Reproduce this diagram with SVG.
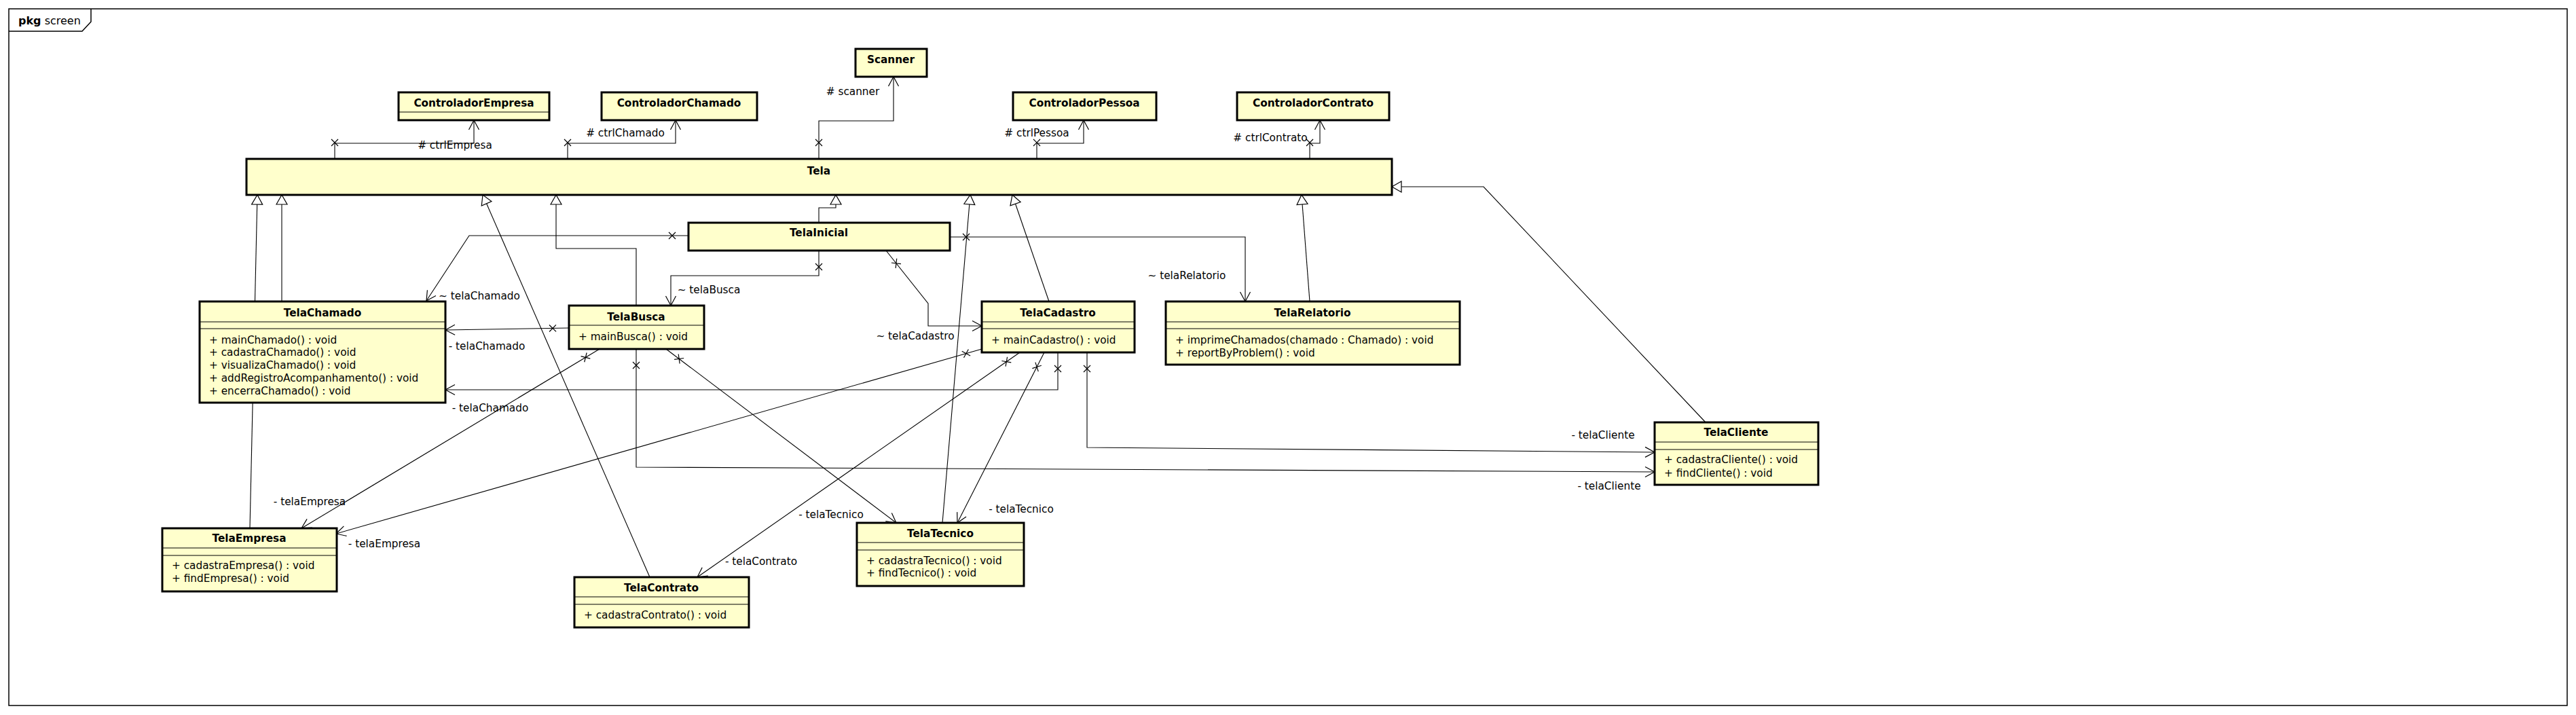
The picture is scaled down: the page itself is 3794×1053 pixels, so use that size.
<svg xmlns="http://www.w3.org/2000/svg" width="3794" height="1053" viewBox="0 0 3794 1053">
<style>
text{font-family:"DejaVu Sans","Liberation Sans",sans-serif;font-size:15.3px;fill:#000}
.nm{font-weight:bold;text-anchor:middle}
.lb{text-anchor:middle}
.box{fill:#ffffcc;stroke:#000;stroke-width:3}
.dv{stroke:#000;stroke-width:1.2}
.c path{fill:none;stroke:#000;stroke-width:1.1}
.as{marker-start:url(#xs);marker-end:url(#ao)}
.ge{marker-end:url(#tri)}
</style>
<defs>
<marker id="xs" markerWidth="2" markerHeight="2" refX="0" refY="0" orient="auto" markerUnits="userSpaceOnUse" overflow="visible"><path d="M19,-5 L29,5 M19,5 L29,-5" fill="none" stroke="#000" stroke-width="1.2"/></marker>
<marker id="ao" markerWidth="2" markerHeight="2" refX="0" refY="0" orient="auto" markerUnits="userSpaceOnUse" overflow="visible"><path d="M-14,-7.5 L0,0 L-14,7.5" fill="none" stroke="#000" stroke-width="1.2"/></marker>
<marker id="tri" markerWidth="2" markerHeight="2" refX="0" refY="0" orient="auto" markerUnits="userSpaceOnUse" overflow="visible"><path d="M-14,-8 L0,0 L-14,8 Z" fill="#fff" stroke="#000" stroke-width="1.2"/></marker>
</defs>
<rect x="0" y="0" width="3794" height="1053" fill="#fff"/>
<g id="frame">
<rect x="13" y="13" width="3768" height="1026" fill="none" stroke="#000" stroke-width="1.5"/>
<path d="M13,46 H121 L134,32 V13" fill="none" stroke="#000" stroke-width="1.5"/>
<text x="27" y="36" style="font-size:16px"><tspan font-weight="bold">pkg</tspan> screen</text>
</g>
<g id="connectors" class="c">
<path class="as" d="M493,234 V211 H698 V177"/>
<path class="as" d="M836,234 V211 H995 V177"/>
<path class="as" d="M1206,234 V178 H1316 V113"/>
<path class="as" d="M1527,234 V211 H1596 V177"/>
<path class="as" d="M1929,234 V211 H1944 V177"/>
<path class="as" d="M1014,347 H691 L628,443"/>
<path class="as" d="M1206,369 V406 H988 V450"/>
<path class="as" d="M1305,369 L1367,447 V480 H1446"/>
<path class="as" d="M1399,349 H1834 V444"/>
<path class="as" d="M838,483 L656,486"/>
<path class="as" d="M883,514 L444,778"/>
<path class="as" d="M937,514 V688 L2437,695"/>
<path class="as" d="M981,514 L1320,770"/>
<path class="as" d="M1446,514 L495,786"/>
<path class="as" d="M1502,519 L1027,850"/>
<path class="as" d="M1538,519 L1410,770"/>
<path class="as" d="M1558,519 V574 H656"/>
<path class="as" d="M1601,519 V659 L2437,666"/>
<path class="ge" d="M368,778 L379,287"/>
<path class="ge" d="M415,444 V287"/>
<path class="ge" d="M957,850 L711,287"/>
<path class="ge" d="M937,450 V366 H819 V287"/>
<path class="ge" d="M1206,328 V306 H1231 V287"/>
<path class="ge" d="M1388,770 L1429,287"/>
<path class="ge" d="M1545,444 L1491,287"/>
<path class="ge" d="M1929,444 L1917,287"/>
<path class="ge" d="M2512,622 L2185,275 L2050,275"/>
</g>
<g id="labels">
<text class="lb" x="670" y="219"># ctrlEmpresa</text>
<text class="lb" x="921" y="201"># ctrlChamado</text>
<text class="lb" x="1256" y="140"># scanner</text>
<text class="lb" x="1527" y="201"># ctrlPessoa</text>
<text class="lb" x="1871" y="208"># ctrlContrato</text>
<text class="lb" x="706" y="441">~ telaChamado</text>
<text class="lb" x="1044" y="432">~ telaBusca</text>
<text class="lb" x="1348" y="500">~ telaCadastro</text>
<text class="lb" x="1748" y="411">~ telaRelatorio</text>
<text class="lb" x="717" y="515">- telaChamado</text>
<text class="lb" x="722" y="606">- telaChamado</text>
<text class="lb" x="456" y="744">- telaEmpresa</text>
<text class="lb" x="566" y="806">- telaEmpresa</text>
<text class="lb" x="1121" y="832">- telaContrato</text>
<text class="lb" x="1224" y="763">- telaTecnico</text>
<text class="lb" x="1504" y="755">- telaTecnico</text>
<text class="lb" x="2361" y="646">- telaCliente</text>
<text class="lb" x="2370" y="721">- telaCliente</text>
</g>
<g id="ControladorEmpresa">
<rect class="box" x="587" y="136" width="222" height="41"/>
<line class="dv" x1="587" y1="165" x2="809" y2="165"/>
<text class="nm" x="698" y="157">ControladorEmpresa</text>
</g>
<g id="ControladorChamado">
<rect class="box" x="886" y="136" width="229" height="41"/>
<text class="nm" x="1000" y="157">ControladorChamado</text>
</g>
<g id="Scanner">
<rect class="box" x="1260" y="72" width="105" height="41"/>
<text class="nm" x="1312" y="93">Scanner</text>
</g>
<g id="ControladorPessoa">
<rect class="box" x="1492" y="136" width="211" height="41"/>
<text class="nm" x="1597" y="157">ControladorPessoa</text>
</g>
<g id="ControladorContrato">
<rect class="box" x="1822" y="136" width="224" height="41"/>
<text class="nm" x="1934" y="157">ControladorContrato</text>
</g>
<g id="Tela">
<rect class="box" x="363" y="234" width="1687" height="53"/>
<text class="nm" x="1206" y="257">Tela</text>
</g>
<g id="TelaInicial">
<rect class="box" x="1014" y="328" width="385" height="41"/>
<text class="nm" x="1206" y="348">TelaInicial</text>
</g>
<g id="TelaChamado">
<rect class="box" x="294" y="444" width="362" height="149"/>
<line class="dv" x1="294" y1="474" x2="656" y2="474"/>
<line class="dv" x1="294" y1="484" x2="656" y2="484"/>
<text class="nm" x="475" y="466">TelaChamado</text>
<text x="308" y="506">+ mainChamado() : void</text>
<text x="308" y="524">+ cadastraChamado() : void</text>
<text x="308" y="543">+ visualizaChamado() : void</text>
<text x="308" y="562">+ addRegistroAcompanhamento() : void</text>
<text x="308" y="581">+ encerraChamado() : void</text>
</g>
<g id="TelaBusca">
<rect class="box" x="838" y="450" width="199" height="64"/>
<line class="dv" x1="838" y1="479" x2="1037" y2="479"/>
<text class="nm" x="937" y="472">TelaBusca</text>
<text x="852" y="501">+ mainBusca() : void</text>
</g>
<g id="TelaCadastro">
<rect class="box" x="1446" y="444" width="225" height="75"/>
<line class="dv" x1="1446" y1="474" x2="1671" y2="474"/>
<line class="dv" x1="1446" y1="484" x2="1671" y2="484"/>
<text class="nm" x="1558" y="466">TelaCadastro</text>
<text x="1460" y="506">+ mainCadastro() : void</text>
</g>
<g id="TelaRelatorio">
<rect class="box" x="1717" y="444" width="433" height="93"/>
<line class="dv" x1="1717" y1="474" x2="2150" y2="474"/>
<line class="dv" x1="1717" y1="484" x2="2150" y2="484"/>
<text class="nm" x="1933" y="466">TelaRelatorio</text>
<text x="1731" y="506">+ imprimeChamados(chamado : Chamado) : void</text>
<text x="1731" y="525">+ reportByProblem() : void</text>
</g>
<g id="TelaCliente">
<rect class="box" x="2437" y="622" width="241" height="92"/>
<line class="dv" x1="2437" y1="651" x2="2678" y2="651"/>
<line class="dv" x1="2437" y1="662" x2="2678" y2="662"/>
<text class="nm" x="2557" y="642">TelaCliente</text>
<text x="2451" y="682">+ cadastraCliente() : void</text>
<text x="2451" y="702">+ findCliente() : void</text>
</g>
<g id="TelaEmpresa">
<rect class="box" x="239" y="778" width="257" height="93"/>
<line class="dv" x1="239" y1="807" x2="496" y2="807"/>
<line class="dv" x1="239" y1="818" x2="496" y2="818"/>
<text class="nm" x="367" y="798">TelaEmpresa</text>
<text x="253" y="838">+ cadastraEmpresa() : void</text>
<text x="253" y="857">+ findEmpresa() : void</text>
</g>
<g id="TelaContrato">
<rect class="box" x="846" y="850" width="257" height="74"/>
<line class="dv" x1="846" y1="879" x2="1103" y2="879"/>
<line class="dv" x1="846" y1="890" x2="1103" y2="890"/>
<text class="nm" x="974" y="871">TelaContrato</text>
<text x="860" y="911">+ cadastraContrato() : void</text>
</g>
<g id="TelaTecnico">
<rect class="box" x="1262" y="770" width="246" height="93"/>
<line class="dv" x1="1262" y1="799" x2="1508" y2="799"/>
<line class="dv" x1="1262" y1="810" x2="1508" y2="810"/>
<text class="nm" x="1385" y="791">TelaTecnico</text>
<text x="1276" y="831">+ cadastraTecnico() : void</text>
<text x="1276" y="849">+ findTecnico() : void</text>
</g>
</svg>
